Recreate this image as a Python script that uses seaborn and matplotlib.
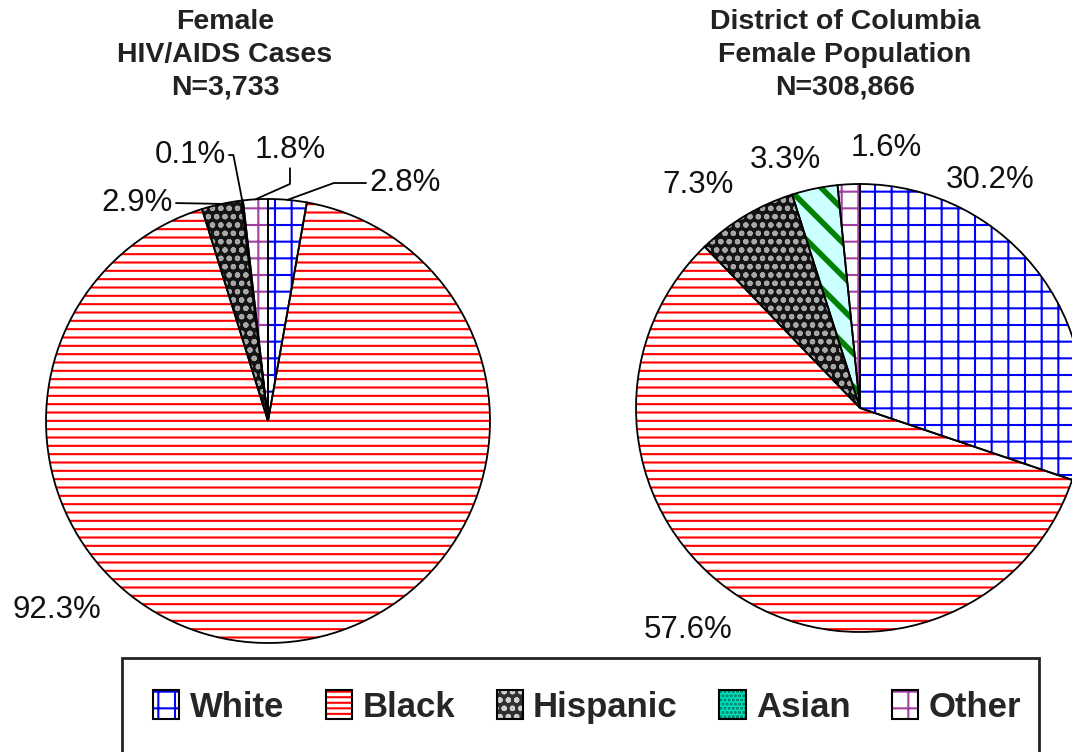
import matplotlib
matplotlib.use("Agg")
import matplotlib.pyplot as plt
import seaborn as sns
import numpy as np
from matplotlib.patches import Patch, Rectangle

# data
groups = ["White", "Black", "Hispanic", "Asian", "Other"]
cases_pct = [2.8, 92.3, 2.9, 0.1, 1.8]
pop_pct = [30.2, 57.6, 7.3, 3.3, 1.6]
cases_title = "Female\nHIV/AIDS Cases\nN=3,733"
pop_title = "District of Columbia\nFemale Population\nN=308,866"

# fill styles per group: face, hatch, hatch colour
faces = ["white", "white", "#141414", "#ccffff", "white"]
hatches = ["+", "--", "oo", "\\", "+"]
hatch_cols = ["#0000ff", "#ff0000", "#a8a8a8", "#008000", "#a040a0"]

sns.set_theme(style="white")
plt.rcParams["font.family"] = ["Liberation Sans", "DejaVu Sans"]
plt.rcParams["hatch.linewidth"] = 1.5

W, H = 1072, 752
fig = plt.figure(figsize=(W / 100, H / 100), dpi=100)


def pie_axes(cx, cy, r):
    return fig.add_axes([(cx - r) / W, (H - cy - r) / H, 2 * r / W, 2 * r / H])


def draw_pie(ax, values):
    wedges, _ = ax.pie(values, startangle=90, counterclock=False, colors=faces,
                       hatch=hatches, wedgeprops=dict(linewidth=0))
    for w, hc, g in zip(wedges, hatch_cols, groups):
        w.set_edgecolor(hc)
        if g == "Asian" and hasattr(w, "set_hatch_linewidth"):
            w.set_hatch_linewidth(4)
    ax.pie(values, startangle=90, counterclock=False,
           colors=["none"] * len(values),
           wedgeprops=dict(edgecolor="black", linewidth=1.3))
    ax.set_xlim(-1, 1)
    ax.set_ylim(-1, 1)
    ax.set_aspect("equal")
    ax.axis("off")
    return wedges


def mid_point(w):
    a = np.deg2rad((w.theta1 + w.theta2) / 2)
    return np.cos(a), np.sin(a)


lab_kw = dict(fontsize=22.5, ha="center", va="center", color="#111111")
title_kw = dict(ha="center", va="top", fontsize=20.5, fontweight="bold",
                linespacing=1.33, color="#222222")

# left pie
ax1 = pie_axes(268, 421, 222)
w1 = draw_pie(ax1, cases_pct)
ax1.text(-0.950, -0.851, f"{cases_pct[1]}%", **lab_kw)
leaders = [
    (0, (0.617, 1.072), (0, 0.5), "angle,angleA=0,angleB=20"),
    (4, (0.099, 1.221), (0.5, 0), "angle,angleA=90,angleB=24"),
    (3, (-0.351, 1.198), (1, 0.5), "angle,angleA=0,angleB=101"),
    (2, (-0.590, 0.982), (1, 0.5), "arc3"),
]
for i, pos, rel, cs in leaders:
    ax1.annotate(f"{cases_pct[i]}%", xy=mid_point(w1[i]), xytext=pos,
                 annotation_clip=False,
                 arrowprops=dict(arrowstyle="-", color="black", lw=1.3,
                                 connectionstyle=cs, relpos=rel,
                                 shrinkA=0, shrinkB=0),
                 **lab_kw)
fig.text(225 / W, 1 - 9 / H, cases_title, **title_kw)

# right pie
ax2 = pie_axes(860, 408, 224)
draw_pie(ax2, pop_pct)
pop_pos = [(0.580, 1.018), (-0.768, -0.991), (-0.723, 0.996), (-0.335, 1.107), (0.116, 1.161)]
for v, p in zip(pop_pct, pop_pos):
    ax2.text(p[0], p[1], f"{v}%", **lab_kw)
fig.text(845 / W, 1 - 9 / H, pop_title, **title_kw)

# legend
leg_faces = ["white", "white", "#303030", "#00e0c8", "white"]
leg_hatch = ["+", "---", "oo", "....", "+"]
leg_cols = ["#0000ff", "#ff0000", "#d0d0d0", "#007a50", "#a040a0"]
handles = []
for f, h, c in zip(leg_faces, leg_hatch, leg_cols):
    handles.append((Patch(facecolor=f, hatch=h, edgecolor=c, linewidth=0),
                    Patch(facecolor="none", edgecolor="black", linewidth=1.5)))
fig.legend(handles, groups, loc="center left", bbox_to_anchor=(136 / W, 1 - 707 / H),
           ncol=5, frameon=False, prop=dict(size=25, weight="bold"),
           handlelength=0.75, handleheight=0.9, handletextpad=0.3,
           columnspacing=1.2, borderpad=0)
fig.patches.append(Rectangle((122 / W, -0.05), (1039 - 122) / W, 0.05 + 1 - 658 / H,
                             transform=fig.transFigure, fill=False,
                             edgecolor="#222222", linewidth=2))

fig.savefig("out.png", dpi=100)
